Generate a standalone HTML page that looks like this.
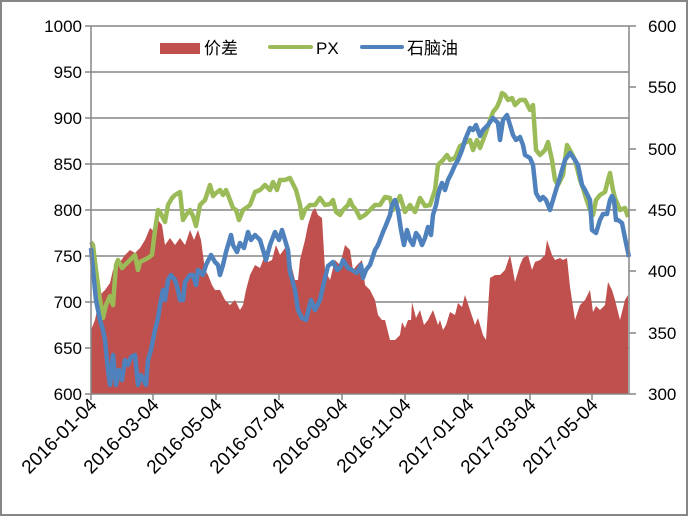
<!DOCTYPE html>
<html><head><meta charset="utf-8"><style>
html,body{margin:0;padding:0;background:#fff}
svg{display:block}
text{font-family:"Liberation Sans","Noto Sans CJK SC",sans-serif;font-size:17px;fill:#000}
.xl text{font-size:19px}
</style></head><body>
<svg width="689" height="517" viewBox="0 0 689 517">
<rect x="1" y="1" width="686" height="514" fill="#fff" stroke="#868686" stroke-width="2"/>
<g stroke="#868686" stroke-width="1.5">
<line x1="91" y1="26" x2="629" y2="26"/><line x1="91" y1="72" x2="629" y2="72"/>
<line x1="91" y1="118" x2="629" y2="118"/><line x1="91" y1="164" x2="629" y2="164"/>
<line x1="91" y1="210" x2="629" y2="210"/><line x1="91" y1="256" x2="629" y2="256"/>
<line x1="91" y1="302" x2="629" y2="302"/><line x1="91" y1="348" x2="629" y2="348"/>
</g>
<polygon fill="#c0504d" points="91,394 91,330 95,320 100,295 105,290 110,283 113,270 118,265 125,255 130,250 135,253 140,248 145,240 150,228 155,232 158,220 162,225 165,245 170,238 175,245 180,238 185,245 190,230 194,240 198,230 201,240 205,270 208,275 212,285 215,290 220,290 225,300 230,305 235,300 240,310 243,305 246,290 250,275 255,265 260,268 265,255 268,262 272,260 276,245 280,255 285,248 290,260 295,280 298,280 300,260 305,240 308,225 312,212 315,208 318,215 322,218 325,270 330,280 335,260 340,265 345,245 350,250 353,270 357,265 362,260 365,285 370,290 375,300 378,315 382,320 385,320 390,340 395,340 400,335 402,322 405,328 408,320 411,320 412,302 416,318 420,310 424,325 428,320 433,310 438,325 440,320 443,330 446,325 450,312 455,315 458,303 462,307 465,295 470,310 475,325 478,318 483,335 486,340 490,278 495,275 500,275 505,270 510,255 512,265 515,282 520,265 523,258 528,255 532,270 535,262 540,260 545,255 547,240 552,255 555,260 560,258 563,260 567,258 570,287 575,320 580,305 585,300 590,290 593,312 596,306 600,310 605,305 608,282 612,290 615,300 620,320 625,300 628,295 628,394"/>
<polyline fill="none" stroke="#9bbb59" stroke-width="4.5" stroke-linejoin="round" points="91,242 93,245 96,270 100,300 103,318 106,305 110,296 113,305 116,265 118,260 122,268 128,262 135,255 138,270 140,262 148,258 152,255 155,230 158,210 160,212 165,222 168,205 172,198 175,195 180,192 183,220 186,215 190,210 193,216 196,226 200,205 205,200 210,185 213,196 216,193 220,190 223,195 226,190 230,200 233,208 236,210 239,220 243,210 246,208 250,205 255,192 260,190 265,185 270,190 273,182 277,190 280,180 285,180 290,178 296,190 300,205 302,218 305,210 310,205 315,205 320,198 325,205 330,204 333,200 336,212 340,215 343,210 348,205 350,200 352,205 356,210 360,218 365,215 370,210 375,205 380,205 385,197 390,198 393,210 396,205 400,196 405,212 410,205 415,212 420,198 425,206 430,205 435,190 438,165 443,160 447,155 450,160 455,158 460,146 465,143 470,140 473,150 477,140 480,148 485,135 490,120 493,112 497,107 500,100 502,93 505,95 508,100 512,98 515,105 520,100 525,100 530,110 533,105 536,150 540,155 545,150 548,142 552,160 555,180 558,185 563,175 567,145 571,152 575,160 580,180 583,188 585,195 590,210 593,215 596,200 600,195 605,192 608,180 610,173 613,190 615,198 620,210 625,208 628,217"/>
<polyline fill="none" stroke="#4f81bd" stroke-width="4.5" stroke-linejoin="round" points="91,248 93,270 96,300 100,320 103,330 105,340 108,370 110,385 113,355 116,385 119,370 122,380 125,360 128,365 131,357 135,355 138,385 141,375 146,385 148,360 151,350 155,330 158,318 160,305 163,290 165,300 168,280 171,275 175,280 178,290 180,300 183,300 185,282 190,275 193,275 196,285 198,270 203,275 206,265 211,255 215,262 218,265 220,275 223,265 226,252 231,235 233,245 237,252 240,243 244,248 248,232 251,240 255,235 260,240 263,250 266,260 270,245 275,232 279,240 282,230 285,240 288,250 290,272 295,290 298,310 302,318 306,320 311,300 315,310 320,300 324,282 328,266 333,262 337,270 340,268 343,260 348,268 352,270 357,273 361,265 363,278 366,270 370,265 375,250 378,245 383,232 386,225 390,215 392,205 395,200 398,210 401,230 404,245 407,230 410,240 413,245 416,233 419,237 422,245 425,238 428,227 431,235 433,215 436,205 438,195 440,188 442,183 445,190 448,180 452,172 455,165 458,160 462,150 465,140 470,128 473,130 476,125 480,136 483,130 488,125 493,118 498,123 500,140 503,120 507,115 510,125 513,135 516,140 520,137 523,145 525,155 530,158 533,165 536,193 540,200 543,197 546,200 550,210 553,200 556,190 560,177 565,160 570,153 575,160 578,165 582,185 585,190 590,200 592,230 596,233 600,220 603,214 607,214 610,200 612,196 614,200 616,220 618,220 622,223 625,238 629,257"/>
<g stroke="#868686" stroke-width="1.5">
<line x1="91" y1="26" x2="91" y2="394"/><line x1="629" y1="26" x2="629" y2="394"/>
<line x1="91" y1="394" x2="629" y2="394"/>
<line x1="85" y1="26" x2="91" y2="26"/><line x1="85" y1="72" x2="91" y2="72"/><line x1="85" y1="118" x2="91" y2="118"/><line x1="85" y1="164" x2="91" y2="164"/><line x1="85" y1="210" x2="91" y2="210"/><line x1="85" y1="256" x2="91" y2="256"/><line x1="85" y1="302" x2="91" y2="302"/><line x1="85" y1="348" x2="91" y2="348"/><line x1="85" y1="394" x2="91" y2="394"/>
<line x1="629" y1="26" x2="636" y2="26"/><line x1="629" y1="87" x2="636" y2="87"/><line x1="629" y1="149" x2="636" y2="149"/><line x1="629" y1="210" x2="636" y2="210"/><line x1="629" y1="271" x2="636" y2="271"/><line x1="629" y1="333" x2="636" y2="333"/><line x1="629" y1="394" x2="636" y2="394"/>
<line x1="91" y1="394" x2="91" y2="400"/><line x1="153" y1="394" x2="153" y2="400"/><line x1="216" y1="394" x2="216" y2="400"/><line x1="279" y1="394" x2="279" y2="400"/><line x1="342" y1="394" x2="342" y2="400"/><line x1="405" y1="394" x2="405" y2="400"/><line x1="468" y1="394" x2="468" y2="400"/><line x1="530" y1="394" x2="530" y2="400"/><line x1="592" y1="394" x2="592" y2="400"/>
</g>
<g text-anchor="end">
<text x="82" y="32">1000</text><text x="82" y="78">950</text><text x="82" y="124">900</text><text x="82" y="170">850</text><text x="82" y="216">800</text><text x="82" y="262">750</text><text x="82" y="308">700</text><text x="82" y="354">650</text><text x="82" y="400">600</text>
</g>
<g>
<text x="648" y="32">600</text><text x="648" y="93">550</text><text x="648" y="155">500</text><text x="648" y="216">450</text><text x="648" y="277">400</text><text x="648" y="339">350</text><text x="648" y="400">300</text>
</g>
<g text-anchor="end" class="xl">
<text transform="translate(98,406) rotate(-45)">2016-01-04</text>
<text transform="translate(160,406) rotate(-45)">2016-03-04</text>
<text transform="translate(223,406) rotate(-45)">2016-05-04</text>
<text transform="translate(286,406) rotate(-45)">2016-07-04</text>
<text transform="translate(349,406) rotate(-45)">2016-09-04</text>
<text transform="translate(412,406) rotate(-45)">2016-11-04</text>
<text transform="translate(475,406) rotate(-45)">2017-01-04</text>
<text transform="translate(537,406) rotate(-45)">2017-03-04</text>
<text transform="translate(599,406) rotate(-45)">2017-05-04</text>
</g>
<rect x="160" y="43" width="40" height="11" fill="#c0504d"/>
<text x="204" y="54">价差</text>
<line x1="270" y1="47" x2="311" y2="47" stroke="#9bbb59" stroke-width="4" stroke-linecap="round"/>
<text x="316" y="54">PX</text>
<line x1="362" y1="47" x2="402" y2="47" stroke="#4f81bd" stroke-width="4" stroke-linecap="round"/>
<text x="407" y="54">石脑油</text>
</svg>
</body></html>
